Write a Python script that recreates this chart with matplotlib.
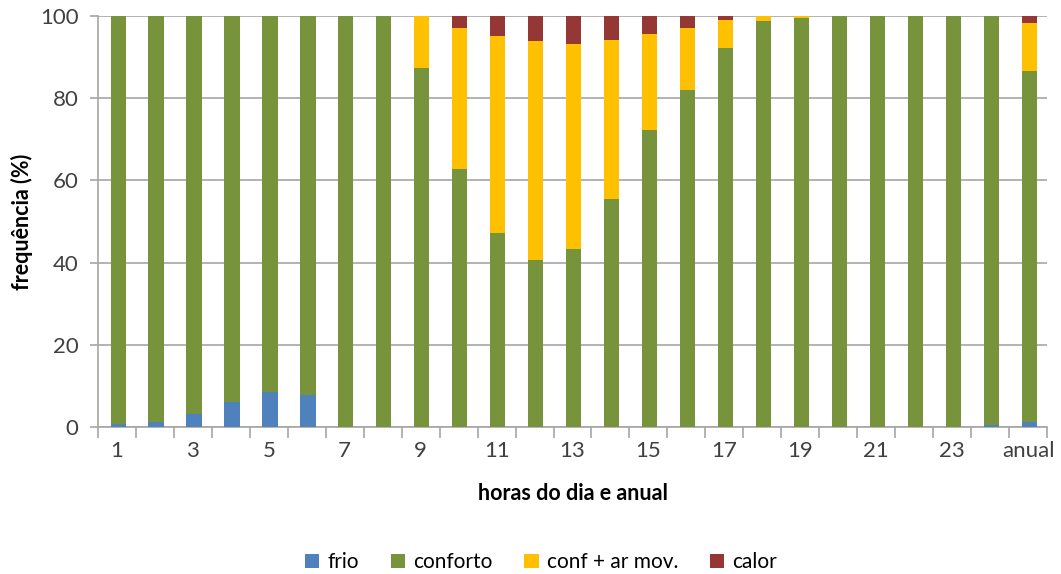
import numpy as np
import matplotlib.pyplot as plt
from matplotlib.ticker import FixedLocator

plt.rcParams['font.family'] = ['Lato', 'DejaVu Sans']

horas = [str(h) for h in range(1, 25)] + ['anual']

# frequência (%) de cada classe por hora do dia e no ano
frio = [0.7, 1.2, 3.2, 6.1, 8.6, 7.7, 0, 0, 0, 0, 0, 0, 0, 0, 0, 0, 0, 0, 0, 0, 0, 0, 0, 0.4, 1.3]
conforto = [99.3, 98.8, 96.8, 93.9, 91.4, 92.3, 100, 100, 87.3, 62.7, 47.2, 40.6, 43.4, 55.4, 72.3, 82.0,
            92.2, 98.8, 99.6, 100, 100, 100, 100, 99.6, 85.3]
conf_ar = [0, 0, 0, 0, 0, 0, 0, 0, 12.7, 34.3, 47.9, 53.3, 49.9, 38.8, 23.3, 15.0,
           6.8, 1.2, 0.4, 0, 0, 0, 0, 0, 11.8]
calor = [0, 0, 0, 0, 0, 0, 0, 0, 0, 3.0, 4.9, 6.1, 6.7, 5.8, 4.4, 3.0,
         1.0, 0, 0, 0, 0, 0, 0, 0, 1.6]

series = [('frio', frio, '#4F81BD'),
          ('conforto', conforto, '#77933C'),
          ('conf + ar mov.', conf_ar, '#FFC000'),
          ('calor', calor, '#953735')]

fig = plt.figure(figsize=(10.61, 5.74), dpi=100)
ax = fig.add_axes([98 / 1061, 1 - 427 / 574, (1047 - 98) / 1061, (427 - 16) / 574])

x = np.arange(len(horas))
base = np.zeros(len(horas))
for nome, vals, cor in series:
    vals = np.array(vals, dtype=float)
    ax.bar(x + 0.03, vals, width=0.4, bottom=base, color=cor, label=nome, zorder=3)
    base += vals

ax.set_xlim(-0.5, len(horas) - 0.5)
ax.set_ylim(0, 100)
ax.set_yticks(np.arange(0, 101, 20))
ax.yaxis.grid(True, color='#A6A6A6', linewidth=1.2, zorder=0)

# rótulos só nas horas ímpares, marcas entre as categorias
ax.set_xticks(x[::2])
ax.set_xticklabels(horas[::2])
ax.xaxis.set_minor_locator(FixedLocator(np.arange(-0.5, len(horas), 1)))
ax.tick_params(axis='x', which='major', length=0, pad=10, labelsize=16, colors='#404040')
ax.tick_params(axis='x', which='minor', length=8, color='#A6A6A6', width=1.2)
ax.tick_params(axis='y', length=6, width=1.2, labelsize=16, pad=8, colors='#A6A6A6', labelcolor='#404040')

for lado in ['top', 'right']:
    ax.spines[lado].set_visible(False)
for lado in ['left', 'bottom']:
    ax.spines[lado].set_color('#A6A6A6')
    ax.spines[lado].set_linewidth(1.2)

ax.set_xlabel('horas do dia e anual', fontsize=15.5, fontweight='bold', labelpad=16)
ax.set_ylabel('frequência (%)', fontsize=15.5, fontweight='bold', labelpad=5)

fig.legend(loc='lower center', ncol=4, frameon=False, fontsize=15, bbox_to_anchor=(0.51, -0.03),
           handlelength=0.7, handleheight=0.7, columnspacing=1.5, handletextpad=0.4)

fig.savefig('out.png', dpi=100)
